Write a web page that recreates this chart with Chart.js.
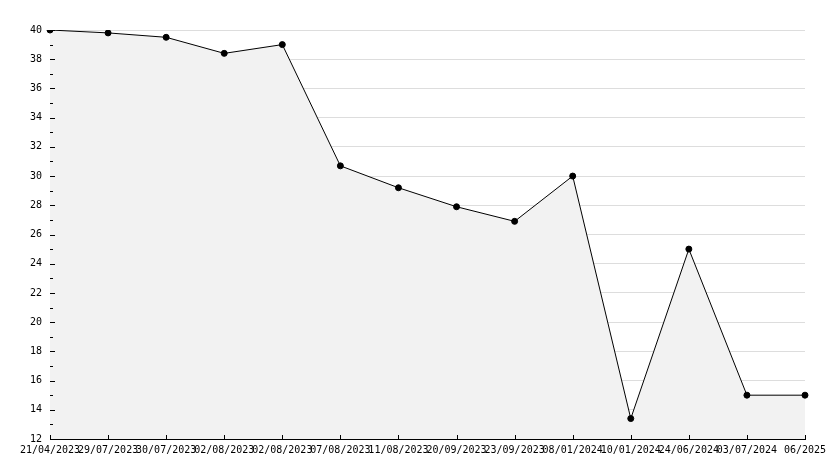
<!DOCTYPE html>
<html>
<head>
<meta charset="utf-8">
<script src="https://cdn.jsdelivr.net/npm/chart.js@4"></script>
<style>
  html, body { margin: 0; padding: 0; background: #fff; }
  #wrap { width: 834px; height: 468px; }
</style>
</head>
<body>
<div id="wrap"><canvas id="chart" width="834" height="468"></canvas></div>
<script>
const labels = ['21/04/2023', '29/07/2023', '30/07/2023', '02/08/2023', '02/08/2023', '07/08/2023', '11/08/2023',
    '20/09/2023', '23/09/2023', '08/01/2024', '10/01/2024', '24/06/2024', '03/07/2024', '06/2025'];
const values = [40, 39.8, 39.5, 38.4, 39.0, 30.7, 29.2, 27.9, 26.9, 30.0, 13.4, 25.0, 15.0, 15.0];
const yMin = 12;
const yMax = 40;
const yStep = 2;

const fontFamily = "'DejaVu Sans Mono', monospace";

// small inward tick marks like the original
const tickMarks = {
    id: 'tickMarks',
    afterDraw(chart) {
        const ctx = chart.ctx;
        const x = chart.scales.x;
        const y = chart.scales.y;
        const area = chart.chartArea;
        ctx.save();
        ctx.strokeStyle = '#000';
        ctx.lineWidth = 1;
        ctx.beginPath();
        for (let v = yMin; v <= yMax; v++) {
            const py = Math.round(y.getPixelForValue(v)) + 0.5;
            const len = (v % 2 === 0) ? 5 : 3;
            ctx.moveTo(area.left, py);
            ctx.lineTo(area.left + len, py);
        }
        for (let i = 0; i < labels.length; i++) {
            const px = Math.round(x.getPixelForValue(i)) + 0.5;
            ctx.moveTo(px, area.bottom);
            ctx.lineTo(px, area.bottom - 4);
        }
        ctx.stroke();
        ctx.restore();
    }
};

const ctx = document.getElementById('chart').getContext('2d');
const chart = new Chart(ctx, {
    type: 'line',
    data: {
        labels: labels,
        datasets: [{
            data: values,
            borderColor: '#000',
            borderWidth: 1,
            backgroundColor: '#f2f2f2',
            fill: 'start',
            tension: 0,
            pointStyle: 'circle',
            pointRadius: 3,
            pointBackgroundColor: '#000',
            pointBorderColor: '#000',
            pointBorderWidth: 1
        }]
    },
    options: {
        responsive: false,
        animation: false,
        layout: { padding: { top: 30, right: 29, left: 0, bottom: 0 } },
        plugins: {
            legend: { display: false },
            tooltip: { enabled: false }
        },
        scales: {
            x: {
                offset: false,
                grid: { display: false, drawTicks: false },
                border: { color: '#000', width: 1 },
                ticks: {
                    autoSkip: false,
                    maxRotation: 0,
                    minRotation: 0,
                    padding: 5,
                    color: '#000',
                    font: { family: fontFamily, size: 10 }
                },
                afterFit(scale) { scale.height = 29; }
            },
            y: {
                min: yMin,
                max: yMax,
                grid: { color: '#dddddd', drawTicks: false },
                border: { color: '#000', width: 1 },
                ticks: {
                    stepSize: yStep,
                    padding: 8,
                    color: '#000',
                    font: { family: fontFamily, size: 10 }
                },
                afterFit(scale) { scale.width = 50; }
            }
        }
    },
    plugins: [tickMarks]
});
</script>
</body>
</html>
